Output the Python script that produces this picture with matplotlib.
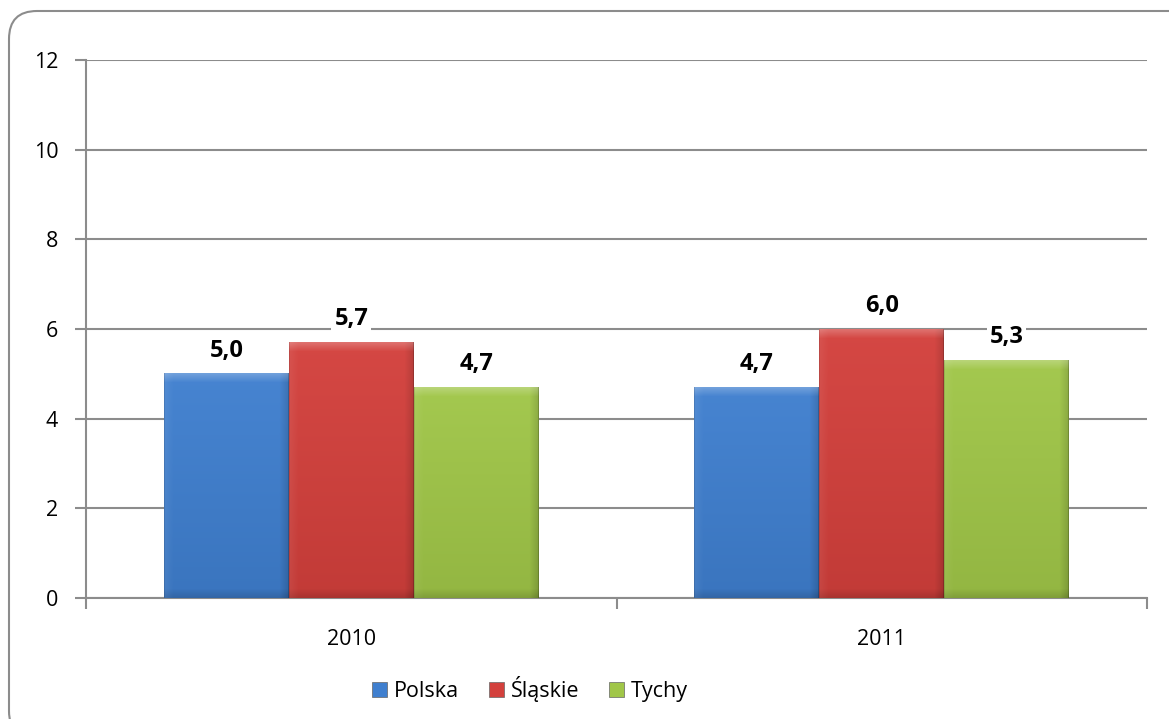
import numpy as np
import matplotlib
matplotlib.use('Agg')
from matplotlib import pyplot as plt
from matplotlib.patches import FancyBboxPatch, Patch
from matplotlib.transforms import IdentityTransform
from matplotlib.colors import to_rgb

plt.rcParams['font.family'] = ['Open Sans', 'DejaVu Sans']

years = ['2010', '2011']
series = ['Polska', 'Śląskie', 'Tychy']
polska = [5.0, 4.7]
slaskie = [5.7, 6.0]
tychy = [4.7, 5.3]
colors = ['#3f7fcf', '#d3403c', '#a0c648']
y_ticks = [0, 2, 4, 6, 8, 10, 12]


def bevel_image(color, nx, ny, b=9):
    base = np.array(to_rgb(color))
    xs = np.arange(nx)[None, :] * np.ones((ny, 1))
    ys = np.arange(ny)[:, None] * np.ones((1, nx))  # 0 at top
    ramp = lambda d: np.clip(1 - d / b, 0, 1)
    light = 0.04 * (1 - ys / max(ny - 1, 1))
    dark = 0.08 * ys / max(ny - 1, 1)
    light += 0.22 * ramp(ys)
    light += 0.06 * ramp(xs)
    dark += 0.14 * ramp(nx - 1 - xs)
    dark += 0.12 * ramp(ny - 1 - ys)
    img = base[None, None, :] * (1 - dark[..., None])
    img = img + (1 - img) * light[..., None]
    img[:, 0] *= 0.88
    img[:, -1] *= 0.82
    return np.clip(img, 0, 1)


fig = plt.figure(figsize=(11.69, 7.19), dpi=100)
ax = fig.add_axes([86 / 1169, 1 - 598 / 719, 1061 / 1169, 538 / 719])

x = np.arange(len(years))
width = 0.2354
bars = []
for i, (name, vals) in enumerate(zip(series, [polska, slaskie, tychy])):
    b = ax.bar(x + (i - 1) * width, vals, width, color=colors[i],
               label=name, zorder=2)
    bars.append(b)

ax.set_xlim(-0.5, 1.5)
ax.set_ylim(0, 12)
ax.set_yticks(y_ticks)
ax.set_xticks(x)
ax.set_xticklabels(years)
ax.set_xticks([-0.5, 0.5, 1.5], minor=True)
ax.tick_params(axis='x', which='major', length=0, pad=22, labelsize=15.5)
ax.tick_params(axis='x', which='minor', length=8, width=1.5,
               color='#8c8c8c', direction='out')
ax.tick_params(axis='y', length=8, width=1.5, color='#8c8c8c',
               labelsize=15.5, pad=12)
ax.grid(axis='y', color='#8c8c8c', linewidth=1.5, zorder=0)
ax.set_axisbelow(True)
for side in ['top', 'right']:
    ax.spines[side].set_visible(False)
for side in ['left', 'bottom']:
    ax.spines[side].set_color('#8c8c8c')
    ax.spines[side].set_linewidth(1.5)

# gradient fill on top of each bar, using bar geometry
fig.canvas.draw()
for i, b in enumerate(bars):
    for rect in b:
        x0, y0 = rect.get_x(), rect.get_y()
        w, h = rect.get_width(), rect.get_height()
        p0 = ax.transData.transform((x0, y0))
        p1 = ax.transData.transform((x0 + w, y0 + h))
        nx = max(int(abs(p1[0] - p0[0])), 2)
        ny = max(int(abs(p1[1] - p0[1])), 2)
        img = bevel_image(colors[i], nx, ny)
        ax.imshow(img, extent=(x0, x0 + w, y0, y0 + h), aspect='auto',
                  interpolation='bilinear', zorder=3)
        ax.annotate(f'{h:.1f}'.replace('.', ','), (x0 + w / 2, y0 + h),
                    xytext=(0, 8), textcoords='offset points',
                    ha='center', va='bottom', fontsize=17,
                    fontweight='bold', zorder=5,
                    bbox=dict(facecolor='white', edgecolor='none', pad=2))

ax.set_xlim(-0.5, 1.5)
ax.set_ylim(0, 12)

handles = [Patch(facecolor=c, edgecolor='#666666', linewidth=0.5, label=s)
           for c, s in zip(colors, series)]
fig.legend(handles=handles, loc='center', bbox_to_anchor=(530 / 1169, 1 - 689 / 719),
           ncol=3, frameon=False, fontsize=15.5, handlelength=0.7,
           handleheight=0.7, handletextpad=0.3, columnspacing=1.4)

frame = FancyBboxPatch((9, -20), 1200, 719 - 11 + 20,
                       boxstyle='round,pad=0,rounding_size=28',
                       transform=IdentityTransform(), facecolor='none',
                       edgecolor='#8c8c8c', linewidth=1.5)
fig.patches.append(frame)

fig.savefig('out.png', dpi=100)
